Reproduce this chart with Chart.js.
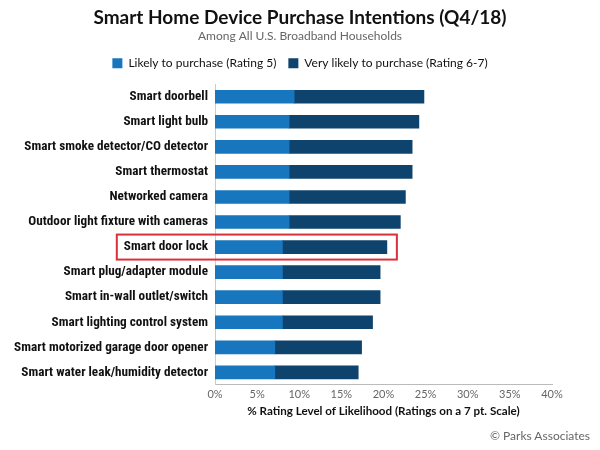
<!DOCTYPE html>
<html>
<head>
<meta charset="utf-8">
<script src="https://cdn.jsdelivr.net/npm/chart.js@4"></script>
<style>
  html, body { margin: 0; padding: 0; background: #fff; }
  #wrap { position: relative; width: 600px; height: 450px; }
  #credit { position: absolute; right: 10px; top: 428px; font: 12px Lato, sans-serif; color: #666; }
</style>
</head>
<body>
<div id="wrap">
  <canvas id="chart" width="600" height="450"></canvas>
  <div id="credit">© Parks Associates</div>
</div>
<script>
const devices = [
  'Smart doorbell',
  'Smart light bulb',
  'Smart smoke detector/CO detector',
  'Smart thermostat',
  'Networked camera',
  'Outdoor light fixture with cameras',
  'Smart door lock',
  'Smart plug/adapter module',
  'Smart in-wall outlet/switch',
  'Smart lighting control system',
  'Smart motorized garage door opener',
  'Smart water leak/humidity detector'
];
const likely = [9.4, 8.8, 8.8, 8.8, 8.8, 8.8, 8.0, 8.0, 8.0, 8.0, 7.1, 7.1];
const veryLikely = [15.4, 15.4, 14.6, 14.6, 13.8, 13.2, 12.4, 11.6, 11.6, 10.7, 10.3, 9.9];
const xTicks = [0, 5, 10, 15, 20, 25, 30, 35, 40];
const highlightIndex = 6;

const labelFont = { family: "'Roboto Condensed', Lato", size: 13.2, weight: 'bold' };

// caixa vermelha em volta da linha destacada
const highlightBox = {
  id: 'highlightBox',
  afterDatasetsDraw(chart) {
    const { ctx, scales: { x, y } } = chart;
    const yc = y.getPixelForValue(highlightIndex);
    ctx.save();
    ctx.font = `bold ${labelFont.size}px ${labelFont.family}`;
    const w = ctx.measureText(devices[highlightIndex]).width;
    const left = y.right - 7 - w - 7;
    const right = x.getPixelForValue(likely[highlightIndex] + veryLikely[highlightIndex]) + 10;
    ctx.strokeStyle = '#d7323c';
    ctx.lineWidth = 2;
    ctx.strokeRect(left, yc - 12.5, right - left, 25);
    ctx.restore();
  }
};

// eixos vazios só para reservar espaço
const spacer = (pos, size) => ({
  position: pos,
  display: true,
  grid: { display: false, drawTicks: false },
  border: { display: false },
  ticks: { display: false },
  afterFit(s) { if (pos === 'top') s.height = size; else s.width = size; }
});

new Chart(document.getElementById('chart'), {
  type: 'bar',
  data: {
    labels: devices,
    datasets: [
      { label: 'Likely to purchase (Rating 5)', data: likely, backgroundColor: '#1776bd', barThickness: 13 },
      { label: 'Very likely to purchase (Rating 6-7)', data: veryLikely, backgroundColor: '#0e436d', barThickness: 13 }
    ]
  },
  options: {
    indexAxis: 'y',
    responsive: false,
    animation: false,
    layout: { padding: { left: 10, right: 10, top: 2, bottom: 28 } },
    plugins: {
      title: {
        display: true,
        text: 'Smart Home Device Purchase Intentions (Q4/18)',
        color: '#111',
        font: { family: 'Lato', size: 19, weight: 'bold' },
        padding: { top: 4, bottom: 0 }
      },
      subtitle: {
        display: true,
        text: 'Among All U.S. Broadband Households',
        color: '#666',
        font: { family: 'Lato', size: 12 },
        padding: { top: 0, bottom: 2 }
      },
      legend: {
        labels: {
          boxWidth: 10, boxHeight: 10, color: '#111',
          font: { family: 'Lato', size: 12 },
          padding: 12
        }
      },
      tooltip: { enabled: false }
    },
    scales: {
      x: {
        stacked: true,
        min: 0, max: 40,
        afterBuildTicks(s) { s.ticks = xTicks.map(v => ({ value: v })); },
        ticks: { callback: v => v + '%', color: '#666', font: { family: 'Lato', size: 11 }, padding: 3 },
        grid: { display: false, drawTicks: false },
        border: { color: '#bbb', dash: [1, 2] },
        title: {
          display: true,
          text: '% Rating Level of Likelihood (Ratings on a 7 pt. Scale)',
          color: '#111',
          font: { family: 'Lato', size: 11.6, weight: 'bold' },
          padding: { top: 0 }
        }
      },
      y: {
        stacked: true,
        grid: { display: false, drawTicks: false },
        border: { color: '#ccc' },
        ticks: { color: '#111', font: labelFont, padding: 7 },
        afterFit(s) { s.width = 205; }
      },
      padRight: Object.assign({ type: 'linear', axis: 'y' }, spacer('right', 38)),
      padTop: Object.assign({ type: 'linear', axis: 'x' }, spacer('top', 5))
    }
  },
  plugins: [highlightBox]
});
</script>
</body>
</html>
